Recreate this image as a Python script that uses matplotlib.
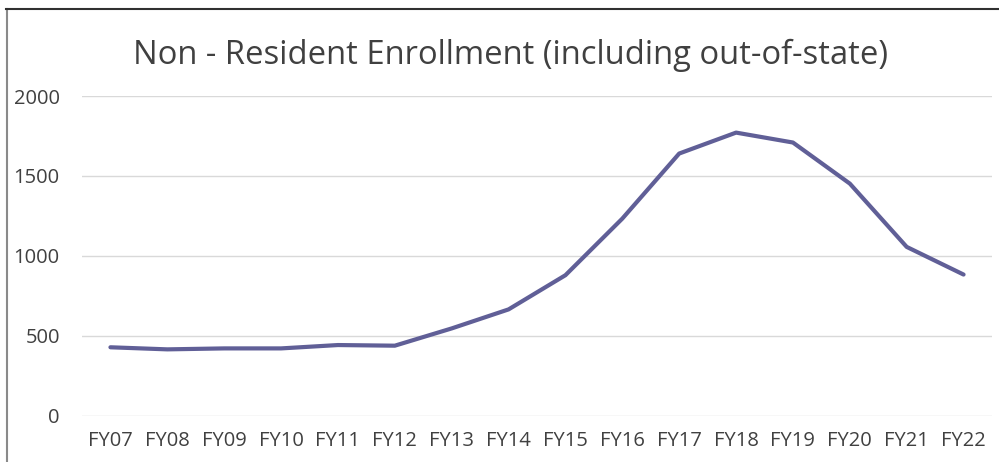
import matplotlib
matplotlib.use("Agg")
import matplotlib.pyplot as plt
from matplotlib.lines import Line2D

categories = ["FY07", "FY08", "FY09", "FY10", "FY11", "FY12", "FY13", "FY14",
              "FY15", "FY16", "FY17", "FY18", "FY19", "FY20", "FY21", "FY22"]
enrollment = [428, 415, 421, 421, 442, 438, 546, 665,
              879, 1233, 1640, 1771, 1709, 1452, 1056, 883]
yticks = [0, 500, 1000, 1500, 2000]
title = "Non - Resident Enrollment (including out-of-state)"

plt.rcParams['font.family'] = ['Open Sans', 'DejaVu Sans']

fig = plt.figure(figsize=(9.99, 4.62), dpi=100)
W, H = 999, 462
ax = fig.add_axes([82 / W, 1 - 415.7 / H, (992 - 82) / W, (415.7 - 96) / H])

x = list(range(len(categories)))
ax.plot(x, enrollment, color='#605f97', lw=3.0, solid_capstyle='round',
        solid_joinstyle='round', zorder=3)

ax.set_xlim(-0.5, len(categories) - 0.5)
ax.set_ylim(0, 2000)
ax.set_yticks(yticks)
ax.set_yticklabels([str(v) for v in yticks])
ax.set_xticks(x)
ax.set_xticklabels(categories)
ax.grid(axis='y', color='#d9d9d9', lw=1.0)
ax.set_axisbelow(True)
for s in ax.spines.values():
    s.set_visible(False)
ax.tick_params(axis='both', length=0, labelsize=14.5, colors='#404040')
ax.tick_params(axis='y', pad=16)
ax.tick_params(axis='x', pad=11)

fig.text(510 / W, 1 - 55 / H, title, ha='center', va='center',
         fontsize=23.6, color='#404040')

# outer chart frame (partially cropped)
fig.add_artist(Line2D([7 / W, 7 / W], [0, 1 - 9 / H], transform=fig.transFigure,
                      color='#8a8a8a', lw=1.5))
fig.add_artist(Line2D([6 / W, 1], [1 - 9 / H, 1 - 9 / H], transform=fig.transFigure,
                      color='#303030', lw=1.5))

fig.savefig("out.png", dpi=100)
